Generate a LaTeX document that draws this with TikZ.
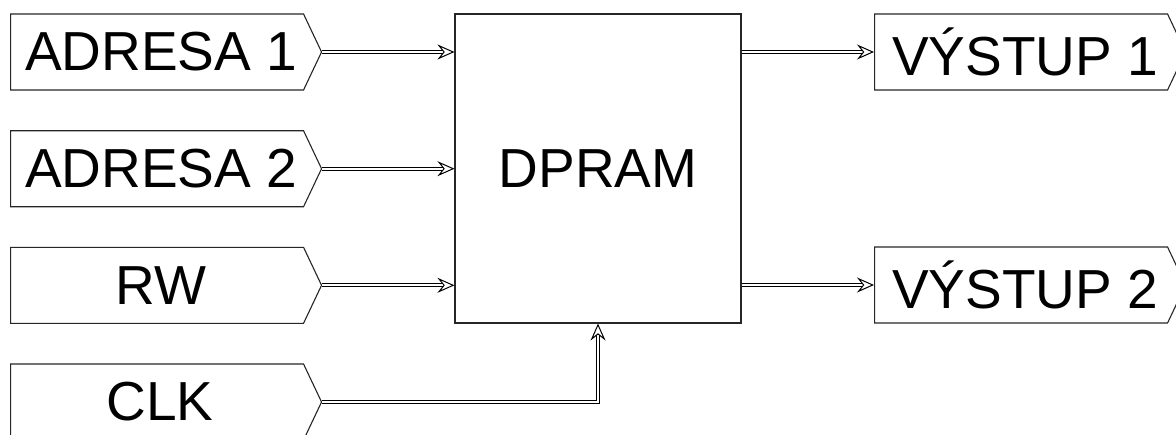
\documentclass[tikz,border=0pt]{standalone}
\usepackage{fontspec}
\setmainfont{Liberation Sans}
\usetikzlibrary{shapes.symbols,arrows.meta}
\begin{document}
\begin{tikzpicture}[x=1pt,y=-1pt,
  io/.style={signal, signal to=east, draw=black!85, line width=1.1pt, minimum width=311pt, minimum height=76pt, signal pointer angle=129.3, inner sep=0pt, font=\fontsize{55}{55}\selectfont, anchor=west},
  blk/.style={draw=black!85, line width=1.1pt, minimum width=286pt, minimum height=309pt, inner sep=0pt, font=\fontsize{55}{55}\selectfont},
  bus/.style={double, double distance=2.2pt, line width=0.9pt, -{Stealth[open, fill=white, length=17pt, width=15pt, inset=6pt, line width=1pt]}}]
\useasboundingbox (0,0) rectangle (1176,434);
\node[io] (a1) at (10,52) {\hspace*{8pt}ADRESA 1};
\node[io] (a2) at (10,168.7) {\hspace*{8pt}ADRESA 2};
\node[io] (rw) at (10,285.3) {\hspace*{8pt}RW};
\node[io] (clk) at (10,402) {\hspace*{6pt}CLK};
\node[blk] (dp) at (598,168.5) {DPRAM};
\node[io] (o1) at (874,52) {\hspace*{8pt}VÝSTUP 1};
\node[io] (o2) at (874,285) {\hspace*{8pt}VÝSTUP 2};
\draw[bus] (a1.east) -- (a1.east -| dp.west);
\draw[bus] (a2.east) -- (a2.east -| dp.west);
\draw[bus] (rw.east) -- (rw.east -| dp.west);
\draw[bus] (clk.east) -| (dp.south);
\draw[bus] (o1.west -| dp.east) -- (o1.west);
\draw[bus] (o2.west -| dp.east) -- (o2.west);
\end{tikzpicture}
\end{document}
